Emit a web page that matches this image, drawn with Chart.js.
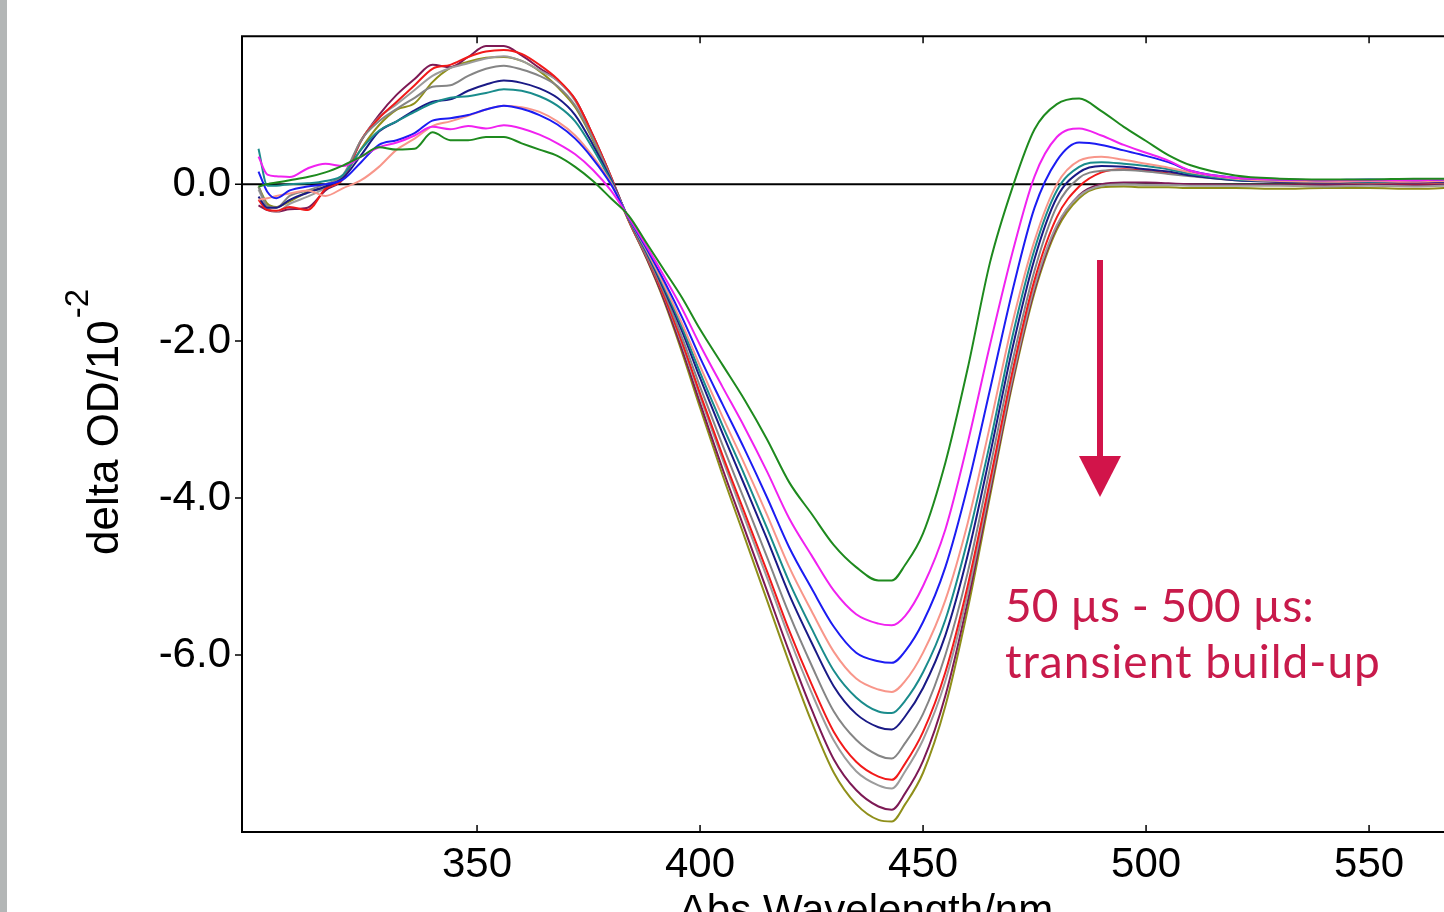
<!DOCTYPE html>
<html>
<head>
<meta charset="utf-8">
<script src="https://cdn.jsdelivr.net/npm/chart.js@4.4.1/dist/chart.umd.min.js"></script>
<style>
  html, body { margin: 0; padding: 0; background: #fff; }
  #wrap { width: 1444px; height: 912px; position: relative; }
</style>
</head>
<body>
<div id="wrap"><canvas id="spectra_chart"></canvas></div>
<script>
// transient absorption spectra, 50 us - 500 us (delta OD / 10^-2)
const wavelength_nm = [301,303,305,308,312,316,320,324,328,332,336,340,344,348,352,356,360,364,368,372,376,380,384,
  388,392,396,400,405,410,415,420,425,430,435,440,443,
  446,450,455,460,465,470,475,480,485,490,495,500,505,510,520,530,540,550,560,567]

const green_values   = [-0.03,0.00,0.02,0.05,0.09,0.15,0.24,0.35,0.47,0.44,0.45,0.66,0.56,0.56,0.60,0.60,0.52,0.44,0.36,0.22,0.04,-0.18,-0.40,
  -0.75,-1.10,-1.45,-1.85,-2.30,-2.75,-3.25,-3.80,-4.20,-4.60,-4.88,-5.05,-5.05,
  -4.85,-4.45,-3.55,-2.35,-1.00,-0.05,0.70,1.02,1.09,0.93,0.73,0.55,0.37,0.24,0.11,0.07,0.06,0.06,0.07,0.07]
const magenta_values = [0.35,0.12,0.10,0.09,0.20,0.26,0.23,0.35,0.47,0.53,0.62,0.73,0.70,0.74,0.71,0.75,0.71,0.63,0.52,0.38,0.18,-0.08,-0.42,
  -0.79,-1.18,-1.59,-2.05,-2.58,-3.10,-3.66,-4.26,-4.73,-5.18,-5.48,-5.60,-5.62,
  -5.50,-5.12,-4.40,-3.30,-2.05,-0.88,0.10,0.60,0.71,0.62,0.50,0.40,0.30,0.17,0.08,0.06,0.05,0.05,0.05,0.06]
const blue_values    = [0.16,-0.10,-0.18,-0.08,-0.03,0.00,0.06,0.28,0.50,0.56,0.65,0.81,0.84,0.88,0.95,1.00,0.96,0.88,0.76,0.58,0.32,0.00,-0.43,
  -0.82,-1.24,-1.70,-2.21,-2.80,-3.38,-3.99,-4.63,-5.15,-5.64,-5.97,-6.08,-6.10,
  -5.95,-5.58,-4.88,-3.85,-2.62,-1.37,-0.30,0.30,0.53,0.50,0.43,0.36,0.28,0.17,0.08,0.06,0.05,0.06,0.05,0.06]
const salmon_values  = [-0.20,-0.18,-0.15,-0.12,-0.08,-0.15,-0.05,0.05,0.22,0.44,0.58,0.74,0.80,0.87,0.95,1.00,0.98,0.92,0.80,0.62,0.35,0.02,-0.43,
  -0.84,-1.29,-1.78,-2.32,-2.96,-3.57,-4.21,-4.88,-5.44,-5.96,-6.30,-6.44,-6.47,
  -6.33,-5.97,-5.30,-4.32,-3.08,-1.78,-0.72,0.00,0.30,0.35,0.31,0.26,0.21,0.15,0.07,0.04,0.03,0.04,0.03,0.04]
const teal_values    = [0.45,-0.02,-0.02,0.00,0.01,0.04,0.12,0.44,0.68,0.80,0.92,1.03,1.10,1.12,1.16,1.21,1.19,1.12,1.00,0.80,0.45,0.04,-0.44,
  -0.86,-1.32,-1.83,-2.40,-3.07,-3.71,-4.38,-5.07,-5.66,-6.20,-6.54,-6.72,-6.74,
  -6.58,-6.22,-5.55,-4.53,-3.30,-1.95,-0.83,-0.08,0.22,0.28,0.26,0.23,0.19,0.13,0.06,0.04,0.03,0.03,0.04,0.04]
const navy_values    = [-0.16,-0.30,-0.30,-0.20,-0.11,-0.03,0.08,0.37,0.67,0.80,0.94,1.05,1.08,1.19,1.27,1.32,1.29,1.22,1.10,0.88,0.50,0.06,-0.44,
  -0.87,-1.35,-1.88,-2.47,-3.17,-3.84,-4.52,-5.23,-5.84,-6.40,-6.75,-6.92,-6.95,
  -6.78,-6.42,-5.75,-4.73,-3.45,-2.10,-0.95,-0.17,0.15,0.23,0.22,0.19,0.16,0.11,0.05,0.03,0.02,0.03,0.02,0.03]
const gray_values    = [-0.03,-0.28,-0.30,-0.15,-0.08,0.00,0.12,0.56,0.80,0.96,1.10,1.24,1.26,1.38,1.47,1.51,1.46,1.38,1.25,1.00,0.58,0.08,-0.45,
  -0.90,-1.39,-1.96,-2.58,-3.32,-4.03,-4.75,-5.48,-6.13,-6.72,-7.08,-7.28,-7.32,
  -7.12,-6.75,-6.00,-4.95,-3.62,-2.27,-1.10,-0.28,0.08,0.17,0.18,0.16,0.13,0.10,0.05,0.03,0.02,0.02,0.02,0.02]
const red_values     = [-0.20,-0.33,-0.34,-0.29,-0.33,-0.06,0.07,0.56,0.84,1.05,1.26,1.47,1.52,1.62,1.69,1.71,1.66,1.52,1.34,1.08,0.62,0.10,-0.46,
  -0.91,-1.43,-2.02,-2.67,-3.45,-4.19,-4.93,-5.69,-6.37,-6.98,-7.36,-7.55,-7.59,
  -7.38,-6.98,-6.22,-5.12,-3.78,-2.40,-1.22,-0.42,-0.03,0.15,0.19,0.17,0.14,0.11,0.06,0.03,0.02,0.02,0.01,0.02]
const light_gray_values = [-0.07,-0.30,-0.35,-0.25,-0.16,-0.05,0.08,0.56,0.85,1.02,1.20,1.38,1.48,1.54,1.60,1.63,1.57,1.45,1.32,1.06,0.60,0.08,-0.46,
  -0.92,-1.44,-2.05,-2.71,-3.50,-4.26,-5.01,-5.78,-6.48,-7.09,-7.48,-7.66,-7.70,
  -7.48,-7.08,-6.33,-5.22,-3.86,-2.48,-1.30,-0.52,-0.15,-0.02,0.00,-0.01,-0.01,-0.02,-0.02,-0.02,-0.03,-0.02,-0.03,-0.02]
const purple_values  = [-0.27,-0.33,-0.35,-0.32,-0.30,-0.08,0.07,0.55,0.88,1.14,1.34,1.52,1.49,1.62,1.76,1.76,1.64,1.48,1.32,1.08,0.62,0.10,-0.46,
  -0.94,-1.48,-2.11,-2.79,-3.62,-4.40,-5.18,-5.96,-6.69,-7.33,-7.72,-7.93,-7.97,
  -7.76,-7.35,-6.52,-5.32,-3.92,-2.52,-1.34,-0.54,-0.14,0.00,0.02,0.02,0.01,0.00,-0.01,-0.01,-0.01,0.00,-0.01,-0.01]
const olive_values   = [-0.03,-0.25,-0.29,-0.22,-0.10,-0.04,0.10,0.45,0.75,0.95,1.03,1.30,1.48,1.56,1.61,1.62,1.57,1.44,1.24,0.98,0.56,0.05,-0.47,
  -0.95,-1.50,-2.15,-2.85,-3.70,-4.50,-5.30,-6.10,-6.85,-7.50,-7.90,-8.10,-8.12,
  -7.90,-7.50,-6.65,-5.42,-3.98,-2.56,-1.38,-0.58,-0.18,-0.04,-0.03,-0.04,-0.04,-0.05,-0.05,-0.06,-0.05,-0.05,-0.06,-0.05]

const x_tick_values = [350, 400, 450, 500, 550]
const y_tick_values = [-6, -4, -2, 0]

const series_list = [
  [green_values, '#1e8a1e'],
  [magenta_values, '#f022f0'],
  [blue_values, '#1c1cf2'],
  [salmon_values, '#f8968a'],
  [teal_values, '#1a8c8c'],
  [navy_values, '#1a1a86'],
  [gray_values, '#858585'],
  [red_values, '#f21a1a'],
  [light_gray_values, '#9c9c9c'],
  [purple_values, '#7d1a55'],
  [olive_values, '#8f8f1a']
]

const label_font = "'Liberation Sans', Arial, sans-serif"
const note_color = '#c81a4b'

const decor_plugin = {
  id: 'decor',
  beforeDraw(chart) {
    const ctx = chart.ctx
    ctx.save()
    ctx.fillStyle = '#ffffff'
    ctx.fillRect(0, 0, chart.width, chart.height)
    ctx.fillStyle = '#b3b6b6'
    ctx.fillRect(0, 0, 7, chart.height)
    ctx.restore()
  },
  beforeDatasetsDraw(chart) {
    const ctx = chart.ctx
    const a = chart.chartArea
    const y0 = chart.scales.y.getPixelForValue(0)
    ctx.save()
    ctx.strokeStyle = '#000'
    ctx.lineWidth = 2
    ctx.beginPath()
    ctx.moveTo(a.left, y0)
    ctx.lineTo(a.right, y0)
    ctx.stroke()
    ctx.restore()
  },
  afterDraw(chart) {
    const ctx = chart.ctx
    const a = chart.chartArea
    const xs = chart.scales.x
    const ys = chart.scales.y
    ctx.save()
    // frame (top, left, bottom)
    ctx.strokeStyle = '#000'
    ctx.lineWidth = 2
    ctx.beginPath()
    ctx.moveTo(a.right, a.top)
    ctx.lineTo(a.left, a.top)
    ctx.lineTo(a.left, a.bottom)
    ctx.lineTo(a.right, a.bottom)
    ctx.stroke()
    // ticks
    ctx.lineWidth = 1.5
    ctx.beginPath()
    x_tick_values.forEach(v => {
      const px = xs.getPixelForValue(v)
      ctx.moveTo(px, a.top)
      ctx.lineTo(px, a.top + 7)
      ctx.moveTo(px, a.bottom)
      ctx.lineTo(px, a.bottom - 7)
    })
    y_tick_values.forEach(v => {
      const py = ys.getPixelForValue(v)
      ctx.moveTo(a.left, py)
      ctx.lineTo(a.left - 7, py)
    })
    ctx.stroke()

    // axis titles
    ctx.fillStyle = '#000'
    ctx.font = '42px ' + label_font
    ctx.textAlign = 'center'
    ctx.textBaseline = 'alphabetic'
    ctx.fillText('Abs Wavelength/nm', 866, 924)

    ctx.save()
    ctx.translate(118, 555)
    ctx.rotate(-Math.PI / 2)
    ctx.textAlign = 'left'
    ctx.font = '44px ' + label_font
    ctx.fillText('delta OD/10', 0, 0)
    const main_w = ctx.measureText('delta OD/10').width
    ctx.font = '33px ' + label_font
    ctx.fillText('-2', main_w + 2, -30)
    ctx.restore()

    // arrow
    ctx.strokeStyle = '#d2144a'
    ctx.fillStyle = '#d2144a'
    ctx.lineWidth = 6
    ctx.beginPath()
    ctx.moveTo(1100, 260)
    ctx.lineTo(1100, 460)
    ctx.stroke()
    ctx.beginPath()
    ctx.moveTo(1079, 456)
    ctx.lineTo(1121, 456)
    ctx.lineTo(1100, 497)
    ctx.closePath()
    ctx.fill()

    // annotation text
    ctx.fillStyle = note_color
    ctx.font = "46px Lato, 'Open Sans', sans-serif"
    ctx.textAlign = 'left'
    ctx.fillText('50 \u00b5s - 500 \u00b5s:', 1005, 622)
    ctx.letterSpacing = '1px'
    ctx.fillText('transient build-up', 1005, 678)
    ctx.letterSpacing = '0px'
    ctx.restore()
  }
}

const ctx = document.getElementById('spectra_chart').getContext('2d')

const chart = new Chart(ctx, {
  type: 'line',
  data: {
    datasets: series_list.map(([values, color]) => ({
      data: wavelength_nm.map((wl, i) => ({x: wl, y: values[i]})),
      borderColor: color,
      borderWidth: 2,
      pointRadius: 0,
      fill: false,
      cubicInterpolationMode: 'monotone'
    }))
  },
  options: {
    responsive: true,
    maintainAspectRatio: false,
    animation: false,
    devicePixelRatio: 1,
    layout: { padding: { top: 36, right: 0, bottom: 0, left: 0 } },
    plugins: {
      legend: { display: false },
      tooltip: { enabled: false },
      title: { display: false }
    },
    scales: {
      x: {
        type: 'linear',
        min: 297.3,
        max: 566.8,
        grid: { display: false, drawTicks: false },
        border: { display: false },
        afterBuildTicks: scale => { scale.ticks = x_tick_values.map(v => ({value: v})) },
        afterFit: scale => { scale.height = 80 },
        ticks: {
          autoSkip: false,
          maxRotation: 0,
          padding: 8,
          color: '#000',
          font: { family: label_font, size: 42 },
          callback: v => String(v)
        }
      },
      y: {
        type: 'linear',
        min: -8.255,
        max: 1.885,
        grid: { display: false, drawTicks: false },
        border: { display: false },
        afterBuildTicks: scale => { scale.ticks = y_tick_values.map(v => ({value: v})) },
        afterFit: scale => { scale.width = 242 },
        ticks: {
          autoSkip: false,
          padding: 11,
          color: '#000',
          font: { family: label_font, size: 42 },
          callback: v => Number(v).toFixed(1)
        }
      }
    }
  },
  plugins: [decor_plugin]
})
</script>
</body>
</html>
